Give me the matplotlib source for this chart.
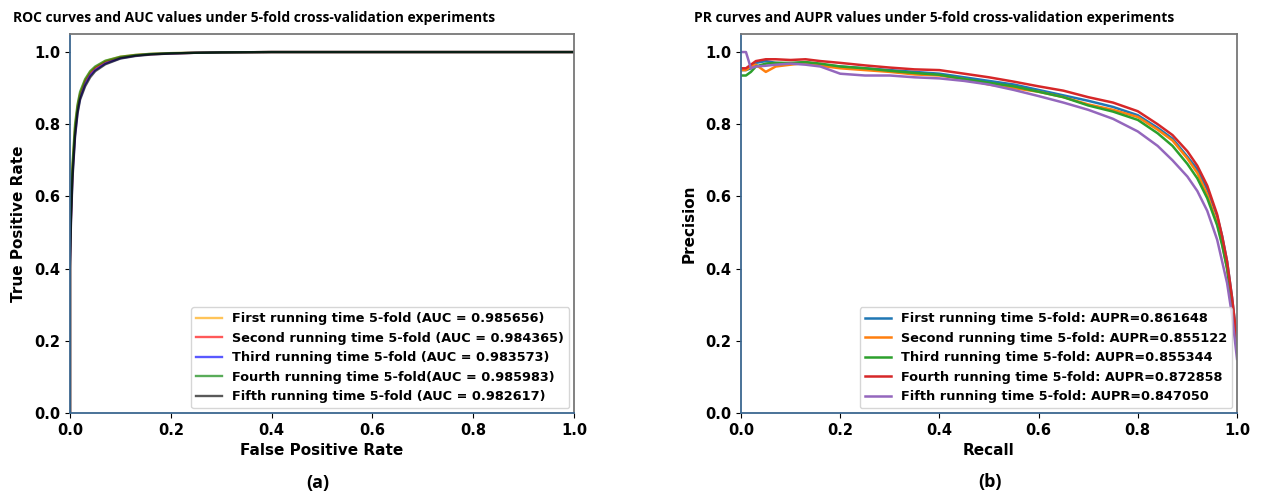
import matplotlib
matplotlib.use("Agg")
import matplotlib.pyplot as plt

# ---------------- ROC data ----------------
fpr = [0.0, 0.0, 0.001, 0.002, 0.005, 0.01, 0.015, 0.02, 0.03, 0.04, 0.05, 0.07,
       0.1, 0.13, 0.16, 0.2, 0.25, 0.3, 0.4, 0.6, 0.8, 1.0]
tpr_first = [0.0, 0.43, 0.50, 0.56, 0.68, 0.79, 0.85, 0.885, 0.922, 0.945, 0.958, 0.975,
             0.987, 0.992, 0.995, 0.997, 0.998, 0.999, 1.0, 1.0, 1.0, 1.0]
tpr_second = [0.0, 0.42, 0.49, 0.55, 0.67, 0.78, 0.845, 0.88, 0.918, 0.94, 0.955, 0.972,
              0.985, 0.991, 0.994, 0.996, 0.998, 0.999, 1.0, 1.0, 1.0, 1.0]
tpr_third = [0.0, 0.41, 0.48, 0.54, 0.66, 0.77, 0.835, 0.872, 0.91, 0.935, 0.95, 0.968,
             0.983, 0.99, 0.994, 0.996, 0.998, 0.999, 1.0, 1.0, 1.0, 1.0]
tpr_fourth = [0.0, 0.44, 0.51, 0.57, 0.69, 0.80, 0.855, 0.89, 0.925, 0.947, 0.96, 0.976,
              0.987, 0.992, 0.995, 0.997, 0.998, 0.999, 1.0, 1.0, 1.0, 1.0]
tpr_fifth = [0.0, 0.40, 0.47, 0.53, 0.65, 0.765, 0.83, 0.868, 0.905, 0.93, 0.947, 0.966,
             0.982, 0.989, 0.993, 0.996, 0.998, 0.999, 1.0, 1.0, 1.0, 1.0]
roc_labels = ["First running time 5-fold (AUC = 0.985656)",
              "Second running time 5-fold (AUC = 0.984365)",
              "Third running time 5-fold (AUC = 0.983573)",
              "Fourth running time 5-fold(AUC = 0.985983)",
              "Fifth running time 5-fold (AUC = 0.982617)"]
roc_colors = ["orange", "red", "blue", "green", "black"]

# ---------------- PR data ----------------
recall = [0.0, 0.01, 0.02, 0.03, 0.05, 0.07, 0.1, 0.13, 0.16, 0.2, 0.25, 0.3, 0.35,
          0.4, 0.45, 0.5, 0.55, 0.6, 0.65, 0.7, 0.75, 0.8, 0.84, 0.87, 0.9, 0.92,
          0.94, 0.96, 0.97, 0.98, 0.99, 0.995, 1.0]
prec_first = [0.95, 0.95, 0.955, 0.97, 0.975, 0.97, 0.968, 0.972, 0.965, 0.96, 0.955,
              0.95, 0.945, 0.94, 0.93, 0.92, 0.91, 0.895, 0.88, 0.865, 0.848, 0.825,
              0.79, 0.76, 0.71, 0.675, 0.62, 0.545, 0.49, 0.42, 0.32, 0.26, 0.2]
prec_second = [0.95, 0.95, 0.96, 0.965, 0.945, 0.96, 0.965, 0.97, 0.962, 0.955, 0.95,
               0.945, 0.938, 0.935, 0.925, 0.91, 0.90, 0.89, 0.875, 0.855, 0.84, 0.82,
               0.785, 0.755, 0.705, 0.665, 0.605, 0.525, 0.47, 0.40, 0.30, 0.25, 0.19]
prec_third = [0.935, 0.935, 0.945, 0.96, 0.968, 0.97, 0.97, 0.972, 0.968, 0.96, 0.955,
              0.948, 0.942, 0.937, 0.925, 0.915, 0.905, 0.89, 0.875, 0.852, 0.835, 0.812,
              0.775, 0.74, 0.69, 0.65, 0.595, 0.52, 0.465, 0.40, 0.30, 0.24, 0.18]
prec_fourth = [0.955, 0.955, 0.965, 0.975, 0.98, 0.98, 0.978, 0.98, 0.975, 0.97, 0.963,
               0.957, 0.952, 0.95, 0.94, 0.93, 0.918, 0.905, 0.893, 0.875, 0.86, 0.836,
               0.80, 0.77, 0.725, 0.685, 0.63, 0.55, 0.49, 0.42, 0.32, 0.26, 0.2]
prec_fifth = [1.0, 1.0, 0.955, 0.96, 0.962, 0.965, 0.968, 0.965, 0.96, 0.94, 0.935,
              0.935, 0.93, 0.927, 0.92, 0.91, 0.895, 0.878, 0.86, 0.84, 0.815, 0.78,
              0.74, 0.70, 0.655, 0.615, 0.56, 0.48, 0.42, 0.36, 0.27, 0.21, 0.15]
pr_labels = ["First running time 5-fold: AUPR=0.861648",
             "Second running time 5-fold: AUPR=0.855122",
             "Third running time 5-fold: AUPR=0.855344",
             "Fourth running time 5-fold: AUPR=0.872858",
             "Fifth running time 5-fold: AUPR=0.847050"]
pr_colors = ["#1f77b4", "#ff7f0e", "#2ca02c", "#d62728", "#9467bd"]

xticks = [0.0, 0.2, 0.4, 0.6, 0.8, 1.0]
yticks = [0.0, 0.2, 0.4, 0.6, 0.8, 1.0]

fig = plt.figure(figsize=(12.88, 4.95), dpi=100)
ax1 = fig.add_axes([70 / 1288, 1 - 413 / 495, 504 / 1288, 379 / 495])
ax2 = fig.add_axes([741 / 1288, 1 - 413 / 495, 496 / 1288, 379 / 495])

tick_fs = 10.5
lab_fs = 11
leg_fs = 9.3

for tpr, lab, col in zip([tpr_first, tpr_second, tpr_third, tpr_fourth, tpr_fifth],
                         roc_labels, roc_colors):
    ax1.plot(fpr, tpr, color=col, lw=1.7, alpha=0.65, label=lab)

for prec, lab, col in zip([prec_first, prec_second, prec_third, prec_fourth, prec_fifth],
                          pr_labels, pr_colors):
    ax2.plot(recall, prec, color=col, lw=1.8, label=lab)

for ax in (ax1, ax2):
    ax.set_xlim(0, 1)
    ax.set_ylim(0, 1.05)
    ax.set_xticks(xticks)
    ax.set_yticks(yticks)
    ax.set_xticklabels([f"{t:.1f}" for t in xticks], fontsize=tick_fs, fontweight="bold")
    ax.set_yticklabels([f"{t:.1f}" for t in yticks], fontsize=tick_fs, fontweight="bold")
    ax.spines["left"].set_color("#3b6790")
    ax.spines["bottom"].set_color("#3b6790")
    ax.spines["top"].set_color("#777777")
    ax.spines["right"].set_color("#777777")
    for s in ax.spines.values():
        s.set_linewidth(1.3)
    leg = ax.legend(loc="lower right", prop={"weight": "bold", "size": leg_fs},
                    handlelength=2.0, labelspacing=0.5, borderaxespad=0.35)

ax1.set_xlabel("False Positive Rate", fontsize=lab_fs, fontweight="bold", labelpad=4)
ax1.set_ylabel("True Positive Rate", fontsize=lab_fs, fontweight="bold", labelpad=6)
ax2.set_xlabel("Recall", fontsize=lab_fs, fontweight="bold", labelpad=4)
ax2.set_ylabel("Precision", fontsize=lab_fs, fontweight="bold", labelpad=6)

fig.text(254 / 1288, 1 - 18 / 495,
         "ROC curves and AUC values under 5-fold cross-validation experiments",
         ha="center", va="center", fontsize=10, fontweight="bold", family="Open Sans")
fig.text(934 / 1288, 1 - 18 / 495,
         "PR curves and AUPR values under 5-fold cross-validation experiments",
         ha="center", va="center", fontsize=10, fontweight="bold", family="Open Sans")
fig.text(318 / 1288, 1 - 483 / 495, "(a)", ha="center", va="center",
         fontsize=13, fontweight="bold", family="Open Sans")
fig.text(990 / 1288, 1 - 482 / 495, "(b)", ha="center", va="center",
         fontsize=13, fontweight="bold", family="Open Sans")

fig.savefig("out.png", dpi=100)
